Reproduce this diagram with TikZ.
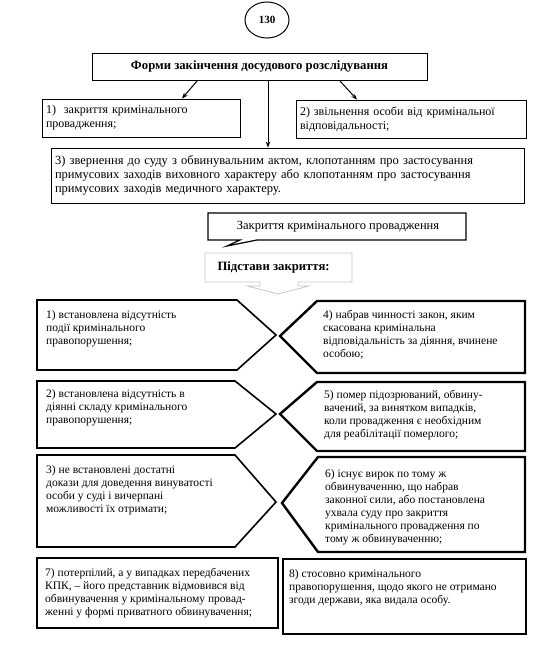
\documentclass[tikz,border=0pt]{standalone}
\usepackage{fontspec}
\setmainfont{Liberation Serif}
\usetikzlibrary{shapes.geometric, arrows.meta, positioning}
\tikzset{
  box/.style={rectangle, draw, line width=0.9pt, align=left, inner xsep=4pt, font=\fontsize{12.5}{14}\selectfont},
  arrow/.style={-{Stealth[length=6pt,width=4.5pt]}, line width=1pt},
  leftsign/.style={draw, line width=1.6pt, line join=miter},
  rightsign/.style={draw, line width=2.4pt, line join=miter},
  rowtext/.style={anchor=north west, inner sep=0pt, align=left, font=\fontsize{11.5}{13}\selectfont},
}

\begin{document}
\begin{tikzpicture}[x=1pt, y=-1pt]
    \useasboundingbox (0,0) rectangle (550,648);
    % top part
    \node[draw, ellipse, line width=1pt, minimum width=44pt, minimum height=36pt, font=\bfseries\fontsize{11}{13}\selectfont] (num) at (267,20) {130};
    \node[box, minimum width=335pt, minimum height=27pt, align=center, font=\bfseries\fontsize{12.7}{14}\selectfont] (forms) at (259.5,66.5) {Форми закінчення досудового розслідування};
    \node[box, text width=190pt, minimum height=38pt, font=\fontsize{12}{14}\selectfont] (close) at (141,118) {1)~~закриття кримінального\\провадження;};
    \node[box, text width=222pt, minimum height=38pt, font=\fontsize{12}{14}\selectfont] (release) at (411,119) {2) звільнення особи від кримінальної\\відповідальності;};
    \node[box, text width=465pt, minimum height=55pt] (court) at (287.5,175.5) {3) звернення до суду з обвинувальним актом, клопотанням про застосування\\примусових заходів виховного характеру або клопотанням про застосування\\примусових заходів медичного характеру.};
    \draw[arrow] ([xshift=-62pt]forms.south) -- ([xshift=41pt]close.north);
    \draw[arrow] ([xshift=80pt]forms.south) -- ([xshift=-54pt]release.north);
    \draw[arrow] ([xshift=8.5pt]forms.south) -- (court.north -| 268,0);

    % closing callout
    \draw[line width=1.2pt, line join=miter] (208,213) -- (466,213) -- (466,240) -- (257,240) -- (227,246) -- (240,240) -- (208,240) -- cycle;
    \node[font=\fontsize{12.5}{13}\selectfont] (closing) at (338,226.5) {Закриття кримінального провадження};

    % grounds arrow box
    \draw[gray!45, line width=0.8pt] (205,253) -- (352,253) -- (352,282) -- (298,282) -- (298,286) -- (309,286) -- (278,294) -- (247,286) -- (260,286) -- (260,282) -- (205,282) -- cycle;
    \node[anchor=west, font=\bfseries\fontsize{12.7}{13}\selectfont] (grounds) at (214,267) {Підстави закриття:};

    % row 1
    \draw[leftsign] (37,300) -- (237,300) -- (276,335) -- (237,370) -- (37,370) -- cycle;
    \draw[rightsign] (317,301) -- (525,301) -- (525,373) -- (317,373) -- (280,336) -- cycle;
    \node[rowtext] (g1) at (46,310) {1) встановлена відсутність\\події кримінального\\правопорушення;};
    \node[rowtext] (g4) at (323,310) {4) набрав чинності закон, яким\\скасована кримінальна\\відповідальність за діяння, вчинене\\особою;};

    % row 2
    \draw[leftsign] (37,381) -- (235,381) -- (276,414) -- (235,448) -- (37,448) -- cycle;
    \draw[rightsign] (317,382) -- (525,382) -- (525,451) -- (317,451) -- (280,414) -- cycle;
    \node[rowtext] (g2) at (46,389) {2) встановлена відсутність в\\діянні складу кримінального\\правопорушення;};
    \node[rowtext] (g5) at (324,390) {5) помер підозрюваний, обвину-\\вачений, за винятком випадків,\\коли провадження є необхідним\\для реабілітації померлого;};

    % row 3
    \draw[leftsign] (37,455) -- (235,455) -- (276,502) -- (235,547) -- (37,547) -- cycle;
    \draw[rightsign] (318,457) -- (525,457) -- (525,552) -- (318,552) -- (282,503) -- cycle;
    \node[rowtext] (g3) at (46,465) {3) не встановлені достатні\\докази для доведення винуватості\\особи у суді і вичерпані\\можливості їх отримати;};
    \node[rowtext] (g6) at (325,469) {6) існує вирок по тому ж\\обвинуваченню, що набрав\\законної сили, або постановлена\\ухвала суду про закриття\\кримінального провадження по\\тому ж обвинуваченню;};

    % row 4
    \draw[rightsign] (37,558) rectangle (278,628);
    \draw[rightsign] (283,559) rectangle (526,634);
    \node[rowtext] (g7) at (45,568) {7) потерпілий, а у випадках передбачених\\КПК, – його представник відмовився від\\обвинувачення у кримінальному провад-\\женні у формі приватного обвинувачення;};
    \node[rowtext] (g8) at (289,569) {8) стосовно кримінального\\правопорушення, щодо якого не отримано\\згоди держави, яка видала особу.};
  \end{tikzpicture}
\end{document}
